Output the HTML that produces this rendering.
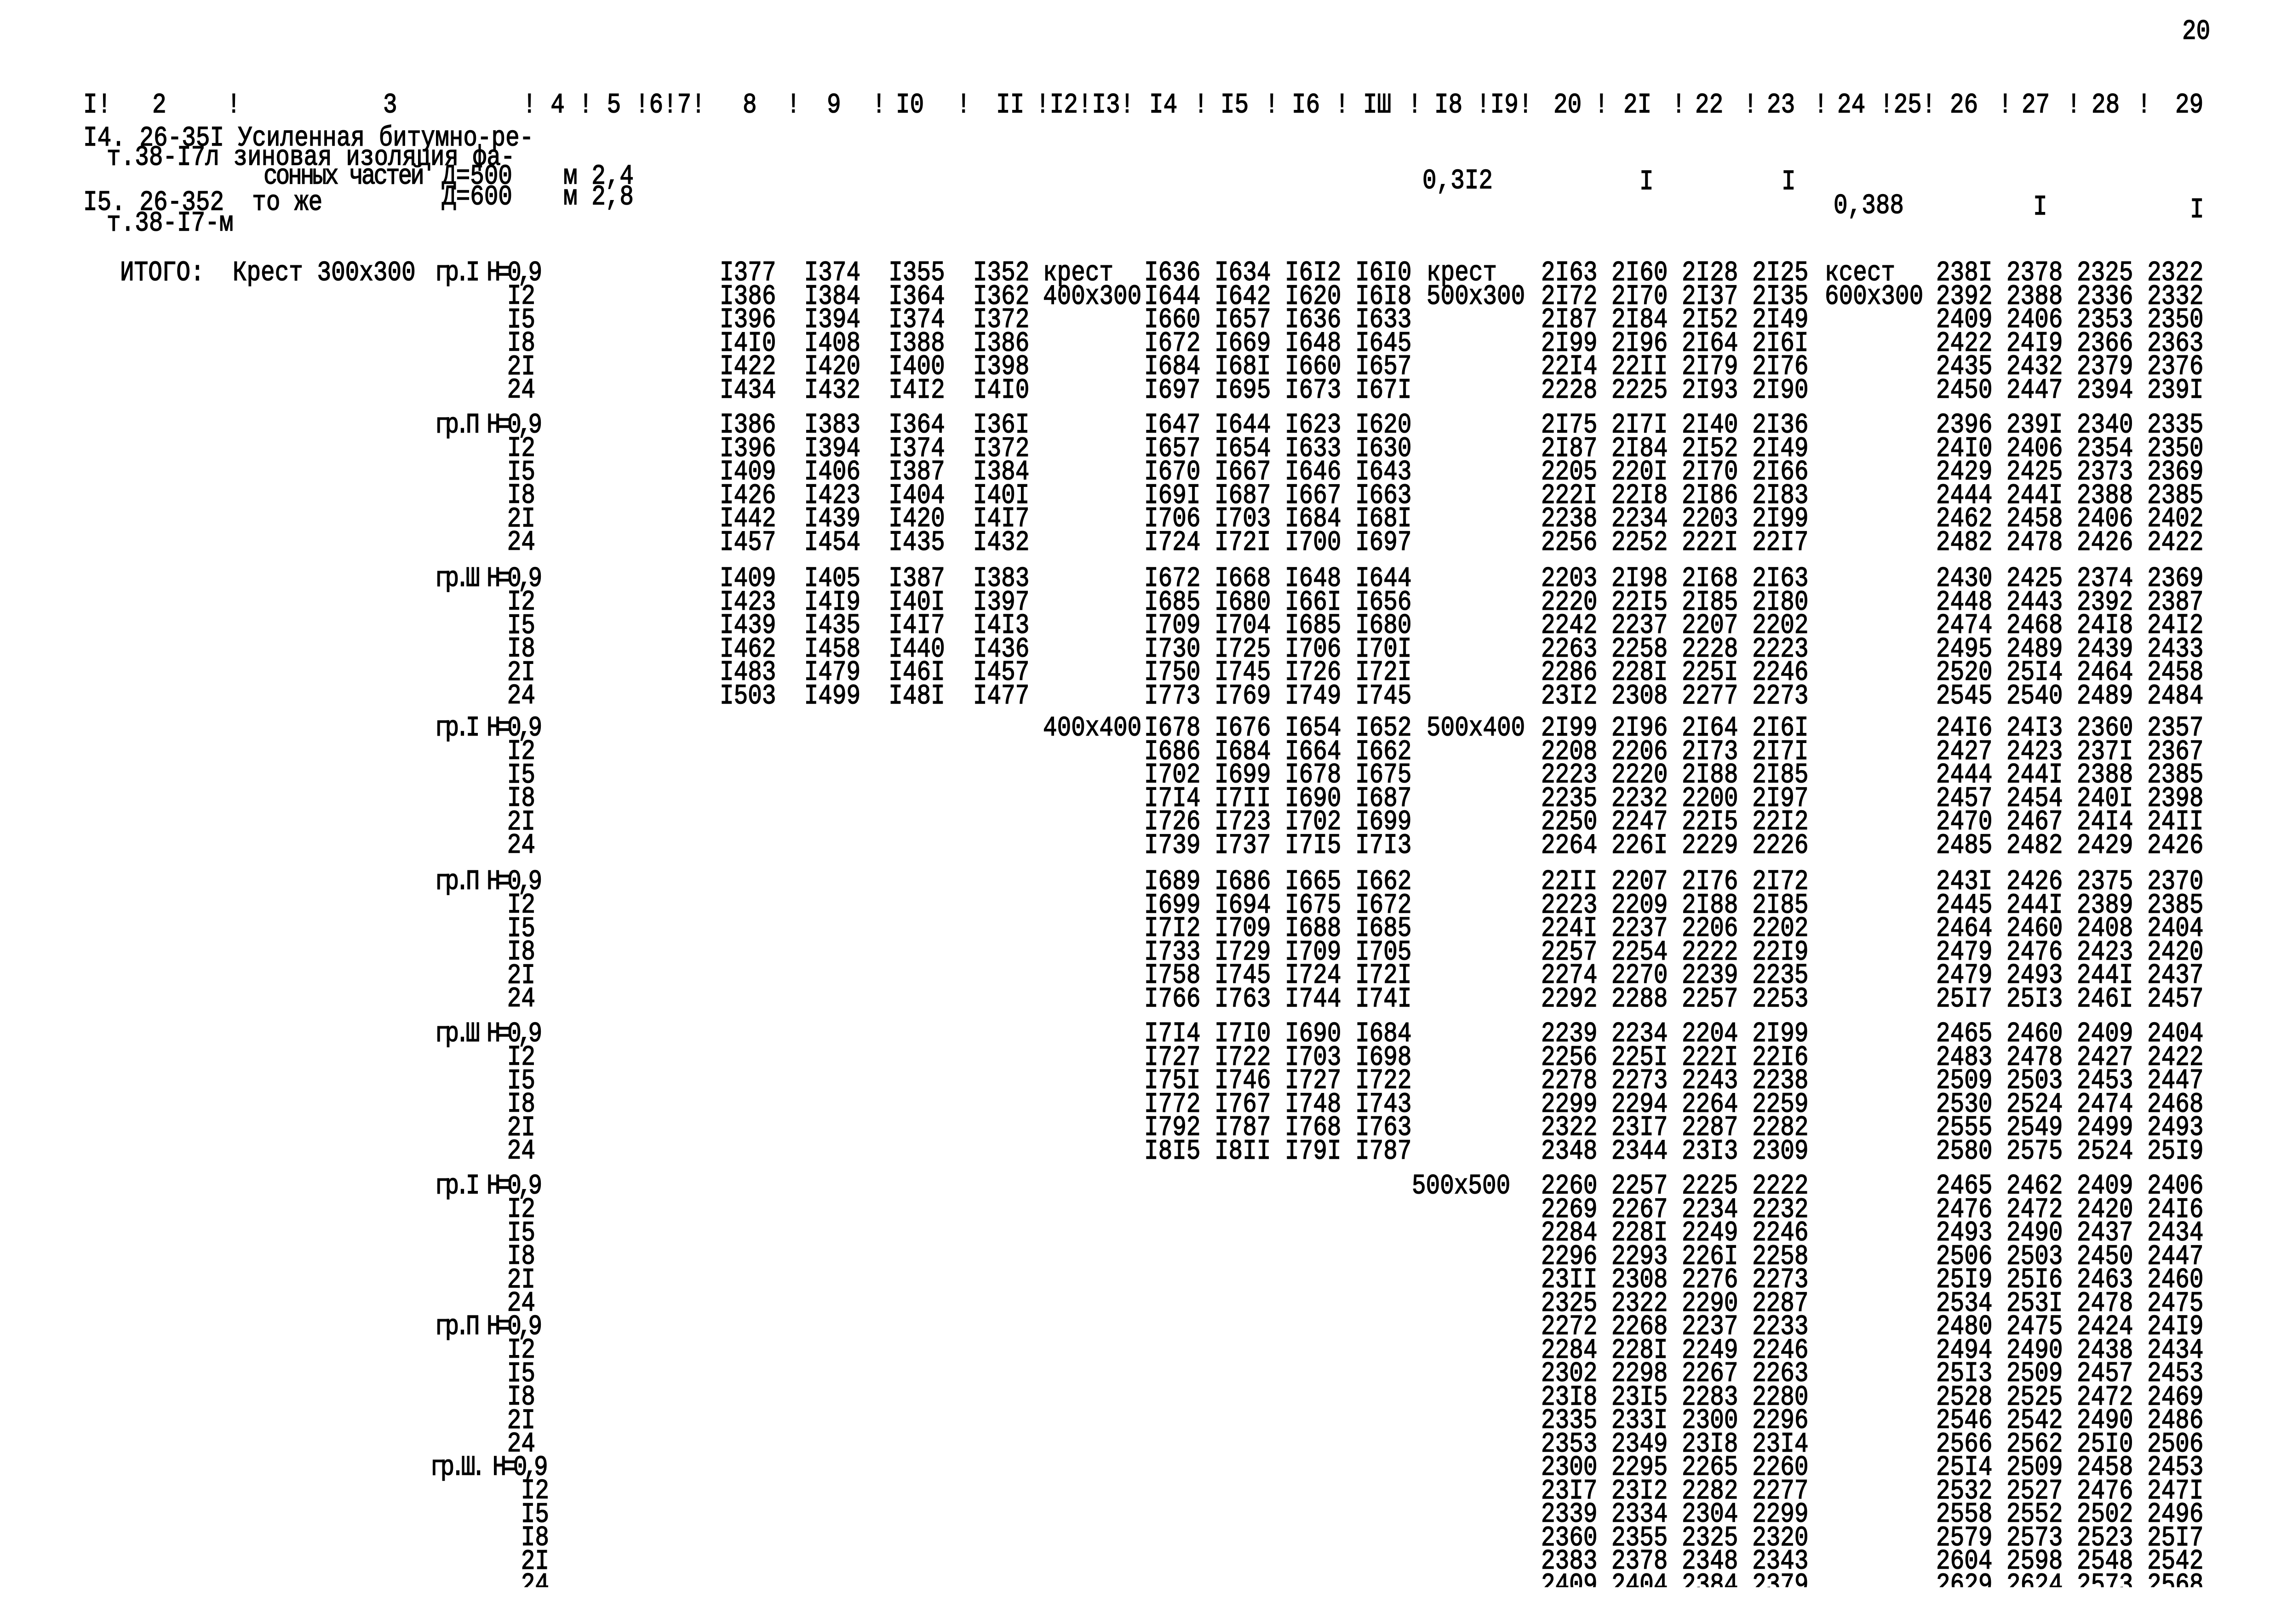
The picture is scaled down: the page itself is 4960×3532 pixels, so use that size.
<!DOCTYPE html>
<html><head><meta charset="utf-8"><style>
html,body{margin:0;padding:0;background:#fff;}
body{width:4960px;height:3507px;position:relative;overflow:hidden;}
.t{position:absolute;white-space:pre;font-family:"Liberation Mono","DejaVu Sans Mono",monospace;font-size:51px;line-height:42.5px;color:#000;transform:scaleY(1.2);transform-origin:0 0;-webkit-text-stroke:1.3px #000;}
.r{text-align:right;transform-origin:100% 0;}
.n{letter-spacing:-4px;}
.g{letter-spacing:-8px;}
</style></head><body>

<div class="t" style="left:4745px;top:45px">20</div>

<!-- header -->
<div class="t" style="left:181px;top:205px">I!</div>
<div class="t" style="left:331px;top:205px">2</div>
<div class="t" style="left:493px;top:205px">!</div>
<div class="t" style="left:833px;top:205px">3</div>
<div class="t" style="left:1136px;top:205px">! 4 ! 5 !6!7!</div>
<div class="t" style="left:1615px;top:205px">8</div>
<div class="t" style="left:1710px;top:205px">!</div>
<div class="t" style="left:1798px;top:205px">9</div>
<div class="t" style="left:1896px;top:205px">!</div>
<div class="t" style="left:1948px;top:205px">I0</div>
<div class="t" style="left:2080px;top:205px">!</div>
<div class="t" style="left:2166px;top:205px">II</div>
<div class="t" style="left:2252px;top:205px">!I2!I3!</div>
<div class="t" style="left:2499px;top:205px">I4</div>
<div class="t" style="left:2596px;top:205px">!</div>
<div class="t" style="left:2654px;top:205px">I5</div>
<div class="t" style="left:2750px;top:205px">!</div>
<div class="t" style="left:2809px;top:205px">I6</div>
<div class="t" style="left:2903px;top:205px">!</div>
<div class="t" style="left:2964px;top:205px">IШ</div>
<div class="t" style="left:3061px;top:205px">!</div>
<div class="t" style="left:3119px;top:205px">I8</div>
<div class="t" style="left:3210px;top:205px">!I9!</div>
<div class="t" style="left:3378px;top:205px">20</div>
<div class="t" style="left:3467px;top:205px">!</div>
<div class="t" style="left:3530px;top:205px">2I</div>
<div class="t" style="left:3635px;top:205px">!</div>
<div class="t" style="left:3686px;top:205px">22</div>
<div class="t" style="left:3791px;top:205px">!</div>
<div class="t" style="left:3842px;top:205px">23</div>
<div class="t" style="left:3944px;top:205px">!</div>
<div class="t" style="left:3995px;top:205px">24</div>
<div class="t" style="left:4087px;top:205px">!25!</div>
<div class="t" style="left:4240px;top:205px">26</div>
<div class="t" style="left:4345px;top:205px">!</div>
<div class="t" style="left:4396px;top:205px">27</div>
<div class="t" style="left:4494px;top:205px">!</div>
<div class="t" style="left:4548px;top:205px">28</div>
<div class="t" style="left:4647px;top:205px">!</div>
<div class="t" style="left:4730px;top:205px">29</div>

<!-- items 14, 15 -->
<div class="t" style="left:181px;top:277px">I4. 26-35I Усиленная битумно-ре-</div>
<div class="t" style="left:232px;top:319px">т.38-I7л зиновая изоляция фа-</div>
<div class="t n" style="left:573px;top:360px">сонных частей</div>
<div class="t" style="left:961px;top:360px">Д=500</div>
<div class="t" style="left:1225px;top:360px">м 2,4</div>
<div class="t" style="left:181px;top:417px">I5. 26-352  то же</div>
<div class="t" style="left:961px;top:405px">Д=600</div>
<div class="t" style="left:1225px;top:405px">м 2,8</div>
<div class="t" style="left:232px;top:462px">т.38-I7-м</div>
<div class="t" style="left:3093px;top:370px">0,3I2</div>
<div class="t" style="left:3565px;top:372px">I</div>
<div class="t" style="left:3874px;top:372px">I</div>
<div class="t" style="left:3987px;top:424px">0,388</div>
<div class="t" style="left:4421px;top:427px">I</div>
<div class="t" style="left:4762px;top:433px">I</div>

<!-- left labels -->
<div class="t" style="left:261px;top:570px">ИТОГО:  Крест 300x300</div>
<div class="t g" style="left:945px;top:570px">гр.I Н=0,9</div>
<div class="t r" style="right:3796px;top:621px">I2
I5
I8
2I
24</div>
<div class="t g" style="left:945px;top:901px">гр.П Н=0,9</div>
<div class="t r" style="right:3796px;top:952px">I2
I5
I8
2I
24</div>
<div class="t g" style="left:945px;top:1235px">гр.Ш Н=0,9</div>
<div class="t r" style="right:3796px;top:1286px">I2
I5
I8
2I
24</div>
<div class="t g" style="left:945px;top:1560px">гр.I Н=0,9</div>
<div class="t r" style="right:3796px;top:1611px">I2
I5
I8
2I
24</div>
<div class="t g" style="left:945px;top:1894px">гр.П Н=0,9</div>
<div class="t r" style="right:3796px;top:1945px">I2
I5
I8
2I
24</div>
<div class="t g" style="left:945px;top:2225px">гр.Ш Н=0,9</div>
<div class="t r" style="right:3796px;top:2276px">I2
I5
I8
2I
24</div>
<div class="t g" style="left:945px;top:2556px">гр.I Н=0,9</div>
<div class="t r" style="right:3796px;top:2607px">I2
I5
I8
2I
24</div>
<div class="t g" style="left:945px;top:2862px">гр.П Н=0,9</div>
<div class="t r" style="right:3796px;top:2913px">I2
I5
I8
2I
24</div>
<div class="t g" style="left:935px;top:3168px">гр.Ш. Н=0,9</div>
<div class="t r" style="right:3766px;top:3219px">I2
I5
I8
2I
24</div>

<!-- Block A -->
<div class="t" style="left:1565px;top:570px">I377  I374  I355  I352
I386  I384  I364  I362
I396  I394  I374  I372
I4I0  I408  I388  I386
I422  I420  I400  I398
I434  I432  I4I2  I4I0</div>
<div class="t" style="left:1565px;top:901px">I386  I383  I364  I36I
I396  I394  I374  I372
I409  I406  I387  I384
I426  I423  I404  I40I
I442  I439  I420  I4I7
I457  I454  I435  I432</div>
<div class="t" style="left:1565px;top:1235px">I409  I405  I387  I383
I423  I4I9  I40I  I397
I439  I435  I4I7  I4I3
I462  I458  I440  I436
I483  I479  I46I  I457
I503  I499  I48I  I477</div>
<div class="t" style="left:2268px;top:570px">крест
400x300</div>
<div class="t" style="left:2268px;top:1560px">400x400</div>

<!-- Block B -->
<div class="t" style="left:2488px;top:570px">I636 I634 I6I2 I6I0
I644 I642 I620 I6I8
I660 I657 I636 I633
I672 I669 I648 I645
I684 I68I I660 I657
I697 I695 I673 I67I</div>
<div class="t" style="left:2488px;top:901px">I647 I644 I623 I620
I657 I654 I633 I630
I670 I667 I646 I643
I69I I687 I667 I663
I706 I703 I684 I68I
I724 I72I I700 I697</div>
<div class="t" style="left:2488px;top:1235px">I672 I668 I648 I644
I685 I680 I66I I656
I709 I704 I685 I680
I730 I725 I706 I70I
I750 I745 I726 I72I
I773 I769 I749 I745</div>
<div class="t" style="left:2488px;top:1560px">I678 I676 I654 I652
I686 I684 I664 I662
I702 I699 I678 I675
I7I4 I7II I690 I687
I726 I723 I702 I699
I739 I737 I7I5 I7I3</div>
<div class="t" style="left:2488px;top:1894px">I689 I686 I665 I662
I699 I694 I675 I672
I7I2 I709 I688 I685
I733 I729 I709 I705
I758 I745 I724 I72I
I766 I763 I744 I74I</div>
<div class="t" style="left:2488px;top:2225px">I7I4 I7I0 I690 I684
I727 I722 I703 I698
I75I I746 I727 I722
I772 I767 I748 I743
I792 I787 I768 I763
I8I5 I8II I79I I787</div>
<div class="t" style="left:3102px;top:570px">крест
500x300</div>
<div class="t" style="left:3102px;top:1560px">500x400</div>
<div class="t" style="left:3070px;top:2556px">500x500</div>

<!-- Block C -->
<div class="t" style="left:3351px;top:570px">2I63 2I60 2I28 2I25
2I72 2I70 2I37 2I35
2I87 2I84 2I52 2I49
2I99 2I96 2I64 2I6I
22I4 22II 2I79 2I76
2228 2225 2I93 2I90</div>
<div class="t" style="left:3351px;top:901px">2I75 2I7I 2I40 2I36
2I87 2I84 2I52 2I49
2205 220I 2I70 2I66
222I 22I8 2I86 2I83
2238 2234 2203 2I99
2256 2252 222I 22I7</div>
<div class="t" style="left:3351px;top:1235px">2203 2I98 2I68 2I63
2220 22I5 2I85 2I80
2242 2237 2207 2202
2263 2258 2228 2223
2286 228I 225I 2246
23I2 2308 2277 2273</div>
<div class="t" style="left:3351px;top:1560px">2I99 2I96 2I64 2I6I
2208 2206 2I73 2I7I
2223 2220 2I88 2I85
2235 2232 2200 2I97
2250 2247 22I5 22I2
2264 226I 2229 2226</div>
<div class="t" style="left:3351px;top:1894px">22II 2207 2I76 2I72
2223 2209 2I88 2I85
224I 2237 2206 2202
2257 2254 2222 22I9
2274 2270 2239 2235
2292 2288 2257 2253</div>
<div class="t" style="left:3351px;top:2225px">2239 2234 2204 2I99
2256 225I 222I 22I6
2278 2273 2243 2238
2299 2294 2264 2259
2322 23I7 2287 2282
2348 2344 23I3 2309</div>
<div class="t" style="left:3351px;top:2556px">2260 2257 2225 2222
2269 2267 2234 2232
2284 228I 2249 2246
2296 2293 226I 2258
23II 2308 2276 2273
2325 2322 2290 2287
2272 2268 2237 2233
2284 228I 2249 2246
2302 2298 2267 2263
23I8 23I5 2283 2280
2335 233I 2300 2296
2353 2349 23I8 23I4
2300 2295 2265 2260
23I7 23I2 2282 2277
2339 2334 2304 2299
2360 2355 2325 2320
2383 2378 2348 2343
2409 2404 2384 2379</div>
<div class="t" style="left:3968px;top:570px">кcест
600x300</div>

<!-- Block D -->
<div class="t" style="left:4210px;top:570px">238I 2378 2325 2322
2392 2388 2336 2332
2409 2406 2353 2350
2422 24I9 2366 2363
2435 2432 2379 2376
2450 2447 2394 239I</div>
<div class="t" style="left:4210px;top:901px">2396 239I 2340 2335
24I0 2406 2354 2350
2429 2425 2373 2369
2444 244I 2388 2385
2462 2458 2406 2402
2482 2478 2426 2422</div>
<div class="t" style="left:4210px;top:1235px">2430 2425 2374 2369
2448 2443 2392 2387
2474 2468 24I8 24I2
2495 2489 2439 2433
2520 25I4 2464 2458
2545 2540 2489 2484</div>
<div class="t" style="left:4210px;top:1560px">24I6 24I3 2360 2357
2427 2423 237I 2367
2444 244I 2388 2385
2457 2454 240I 2398
2470 2467 24I4 24II
2485 2482 2429 2426</div>
<div class="t" style="left:4210px;top:1894px">243I 2426 2375 2370
2445 244I 2389 2385
2464 2460 2408 2404
2479 2476 2423 2420
2479 2493 244I 2437
25I7 25I3 246I 2457</div>
<div class="t" style="left:4210px;top:2225px">2465 2460 2409 2404
2483 2478 2427 2422
2509 2503 2453 2447
2530 2524 2474 2468
2555 2549 2499 2493
2580 2575 2524 25I9</div>
<div class="t" style="left:4210px;top:2556px">2465 2462 2409 2406
2476 2472 2420 24I6
2493 2490 2437 2434
2506 2503 2450 2447
25I9 25I6 2463 2460
2534 253I 2478 2475
2480 2475 2424 24I9
2494 2490 2438 2434
25I3 2509 2457 2453
2528 2525 2472 2469
2546 2542 2490 2486
2566 2562 25I0 2506
25I4 2509 2458 2453
2532 2527 2476 247I
2558 2552 2502 2496
2579 2573 2523 25I7
2604 2598 2548 2542
2629 2624 2573 2568</div>

<div style="position:absolute;left:0;top:3452px;width:4960px;height:80px;background:#fff"></div>
</body></html>
